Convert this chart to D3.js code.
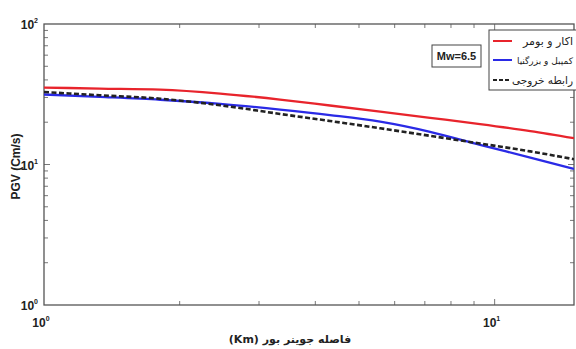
<!DOCTYPE html>
<html>
<head>
<meta charset="utf-8">
<script src="https://cdn.jsdelivr.net/npm/d3@7"></script>
<style>
  html, body { margin: 0; padding: 0; background: #fff; }
  svg { display: block; }
</style>
</head>
<body>
<svg id="chart" width="576" height="349"></svg>
<script>
// Joyner-Boore distance (km) at which each relation is sampled
const distances = [1, 1.33, 1.81, 2.46, 3.34, 4.31, 5.57, 7.19, 9.28, 12, 15];
// PGV (cm/s) for Mw = 6.5
const akkarBommer     = [35.3, 34.7, 34.1, 32.0, 29.0, 26.3, 23.8, 21.5, 19.4, 17.3, 15.4];
const campbellBozorg  = [31.5, 30.3, 28.9, 27.0, 24.6, 22.5, 20.2, 17.1, 13.8, 11.2, 9.3];
const derivedRelation = [32.8, 31.1, 29.4, 26.4, 22.9, 20.4, 18.1, 16.0, 14.1, 12.4, 10.9];

const seriesNames  = ["اکار و بومر", "کمپبل و بزرگنیا", "رابطه خروجی"];
const seriesColors = ["#e8242c", "#2a2ae6", "#222222"];
const xDecades = [1, 10];
const yDecades = [1, 10, 100];
const magnitudeLabel = "Mw=6.5";

const svg = d3.select("#chart");
const m = { left: 44, right: 574, top: 24, bottom: 305 };

const x = d3.scaleLog().domain([1, 15]).range([m.left, m.right]);
const y = d3.scaleLog().domain([1, 100]).range([m.bottom, m.top]);

const axisColor = "#555";
const labelFont = "'Liberation Sans', Arial, sans-serif";
const faFont = "'DejaVu Sans', 'Noto Sans', sans-serif";

// minor + major tick values
const xTickVals = [2, 3, 4, 5, 6, 7, 8, 9, 10];
const yTickVals = [];
[1, 10].forEach(b => { for (let k = 2; k <= 9; k++) yTickVals.push(b * k); });
yTickVals.push(10);

const g = svg.append("g");

// inward ticks on all four sides
const tickLen = 4;
xTickVals.forEach(v => {
  const len = v === 10 ? 6 : tickLen;
  g.append("line").attr("x1", x(v)).attr("x2", x(v)).attr("y1", m.bottom).attr("y2", m.bottom - len)
    .attr("stroke", axisColor).attr("stroke-width", 0.8);
  g.append("line").attr("x1", x(v)).attr("x2", x(v)).attr("y1", m.top).attr("y2", m.top + len)
    .attr("stroke", axisColor).attr("stroke-width", 0.8);
});
yTickVals.forEach(v => {
  const len = v === 10 ? 6 : tickLen;
  g.append("line").attr("x1", m.left).attr("x2", m.left + len).attr("y1", y(v)).attr("y2", y(v))
    .attr("stroke", axisColor).attr("stroke-width", 0.8);
  g.append("line").attr("x1", m.right).attr("x2", m.right - len).attr("y1", y(v)).attr("y2", y(v))
    .attr("stroke", axisColor).attr("stroke-width", 0.8);
});

// frame
g.append("rect").attr("x", m.left).attr("y", m.top)
  .attr("width", m.right - m.left).attr("height", m.bottom - m.top)
  .attr("fill", "none").attr("stroke", axisColor).attr("stroke-width", 1.3);

// power-of-ten labels
function powLabel(sel, base, exp) {
  sel.append("tspan").text(base);
  sel.append("tspan").attr("dy", -6).attr("font-size", 7).text(exp);
}
yDecades.forEach(v => {
  const t = svg.append("text").attr("x", m.left - 6).attr("y", y(v) + 5)
    .attr("text-anchor", "end").attr("font-family", labelFont).attr("font-weight", "bold")
    .attr("font-size", 12).attr("fill", "#222");
  powLabel(t, "10", Math.round(Math.log10(v)));
});
xDecades.forEach(v => {
  const t = svg.append("text").attr("x", x(v) - 3).attr("y", m.bottom + 22)
    .attr("text-anchor", "middle").attr("font-family", labelFont).attr("font-weight", "bold")
    .attr("font-size", 12).attr("fill", "#222");
  powLabel(t, "10", Math.round(Math.log10(v)));
});

// axis titles
svg.append("text").attr("transform", `translate(20,${(m.top + m.bottom) / 2 + 2}) rotate(-90)`)
  .attr("text-anchor", "middle").attr("font-family", labelFont).attr("font-weight", "bold")
  .attr("font-size", 12).attr("fill", "#222").text("PGV  (Cm/s)");
svg.append("text").attr("x", 290).attr("y", 343)
  .attr("text-anchor", "middle").attr("font-family", faFont).attr("font-weight", "bold")
  .attr("font-size", 11).attr("fill", "#222").text("(Km) فاصله جوینر بور");

// curves
const allSeries = [akkarBommer, campbellBozorg, derivedRelation];
const line = d3.line().x((d, i) => x(distances[i])).y(d => y(d)).curve(d3.curveMonotoneX);
svg.append("clipPath").attr("id", "plotClip").append("rect")
  .attr("x", m.left).attr("y", m.top).attr("width", m.right - m.left).attr("height", m.bottom - m.top);
allSeries.forEach((s, i) => {
  svg.append("path").datum(s).attr("d", line)
    .attr("clip-path", "url(#plotClip)")
    .attr("fill", "none").attr("stroke", seriesColors[i])
    .attr("stroke-width", i === 2 ? 2.6 : 2.3)
    .attr("stroke-dasharray", i === 2 ? "5,2.5" : null);
});

// magnitude box
const mb = svg.append("g");
mb.append("rect").attr("x", 432).attr("y", 45).attr("width", 49).attr("height", 22)
  .attr("fill", "#fff").attr("stroke", "#444").attr("stroke-width", 1);
mb.append("text").attr("x", 456.5).attr("y", 60).attr("text-anchor", "middle")
  .attr("font-family", labelFont).attr("font-weight", "bold").attr("font-size", 11)
  .attr("fill", "#222").text(magnitudeLabel);

// legend
const lg = svg.append("g");
lg.append("rect").attr("x", 489).attr("y", 30).attr("width", 90).attr("height", 60)
  .attr("fill", "#fff").attr("stroke", "#444").attr("stroke-width", 1);
const rowY = [41, 60, 80];
const rowSize = [11, 9, 10.5];
seriesNames.forEach((name, i) => {
  lg.append("line").attr("x1", 493).attr("x2", i === 2 ? 510 : 512)
    .attr("y1", rowY[i]).attr("y2", rowY[i])
    .attr("stroke", seriesColors[i]).attr("stroke-width", 2)
    .attr("stroke-dasharray", i === 2 ? "4,2" : null);
  lg.append("text").attr("x", 573).attr("y", rowY[i] + 4).attr("text-anchor", "end")
    .attr("font-family", faFont).attr("font-size", rowSize[i]).attr("fill", "#222")
    .text(name);
});
</script>
</body>
</html>
